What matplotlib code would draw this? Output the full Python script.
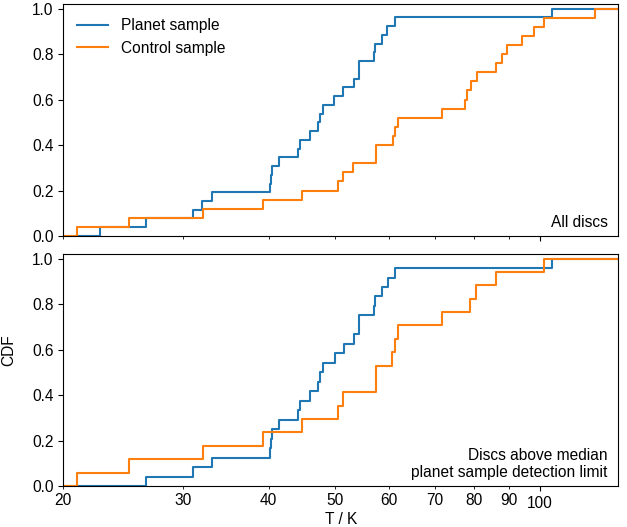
import numpy as np
import matplotlib
matplotlib.use("Agg")
import matplotlib.pyplot as plt
from matplotlib.ticker import FormatStrFormatter

plt.rcParams['font.family'] = ['Liberation Sans', 'DejaVu Sans']
plt.rcParams['font.size'] = 11.2

# Temperatures (K) read from the CDF step positions
planet_all = [22.6, 26.4, 31.0, 31.9, 33.0, 40.2, 40.3, 40.4, 41.4, 44.1, 44.5,
              46.0, 47.2, 47.5, 48.1, 49.9, 51.4, 53.3, 54.3, 54.3, 57.1, 57.2,
              58.6, 59.7, 61.2, 103.9]
control_all = [20.96, 25.0, 32.0, 39.3, 44.7, 50.6, 51.4, 53.2, 57.5, 57.5, 60.9,
               61.3, 61.9, 71.9, 77.6, 78.2, 79.1, 80.7, 86.0, 88.0, 89.5, 94.1,
               97.9, 101.2, 120.1]
planet_above = [26.4, 31.0, 33.0, 40.2, 40.3, 40.4, 41.4, 44.1, 44.5, 46.0, 47.2,
                47.5, 48.1, 50.0, 51.6, 53.4, 54.3, 54.3, 57.1, 57.2, 58.7, 59.9,
                61.2, 103.9]
control_above = [20.96, 25.0, 32.0, 39.3, 44.7, 50.5, 51.4, 57.5, 57.5, 60.7, 61.2,
                 61.9, 71.8, 78.8, 80.4, 86.0, 101.2]

series_labels = ["Planet sample", "Control sample"]
panel_labels = ["All discs", "Discs above median\nplanet sample detection limit"]
xlabel = "T / K"
ylabel = "CDF"
x_min, x_max = 20, 130


def cdf_xy(values):
    v = np.sort(np.asarray(values, dtype=float))
    n = len(v)
    y = np.arange(1, n + 1) / n
    return np.r_[x_min, v, x_max], np.r_[0.0, y, 1.0]


fig = plt.figure(figsize=(6.27, 5.27), dpi=100)
ax1 = fig.add_axes([0.101, 0.5522, 0.8846, 0.4402])
ax2 = fig.add_axes([0.101, 0.0778, 0.8846, 0.4402], sharex=ax1)

for ax, (p, c), lab in zip([ax1, ax2],
                           [(planet_all, control_all), (planet_above, control_above)],
                           panel_labels):
    x, y = cdf_xy(p)
    ax.step(x, y, where='post', color='tab:blue', lw=1.5, label=series_labels[0])
    x, y = cdf_xy(c)
    ax.step(x, y, where='post', color='tab:orange', lw=1.5, label=series_labels[1])
    ax.set_xscale('log')
    ax.set_xlim(x_min, x_max)
    ax.set_ylim(0, 1.02)
    ax.set_yticks([0.0, 0.2, 0.4, 0.6, 0.8, 1.0])
    ax.text(0.981, 0.025, lab, transform=ax.transAxes, ha='right', va='bottom',
            multialignment='right')

ax1.legend(loc='upper left', frameon=False)
ax2.xaxis.set_major_formatter(FormatStrFormatter('%d'))
ax2.xaxis.set_minor_formatter(FormatStrFormatter('%d'))
plt.setp(ax1.get_xticklabels(which='both'), visible=False)
ax2.set_xlabel(xlabel, labelpad=1)
fig.text(9 / 627, 1 - 350 / 527, ylabel, rotation=90, ha='center', va='center')

fig.savefig("out.png", dpi=100)
